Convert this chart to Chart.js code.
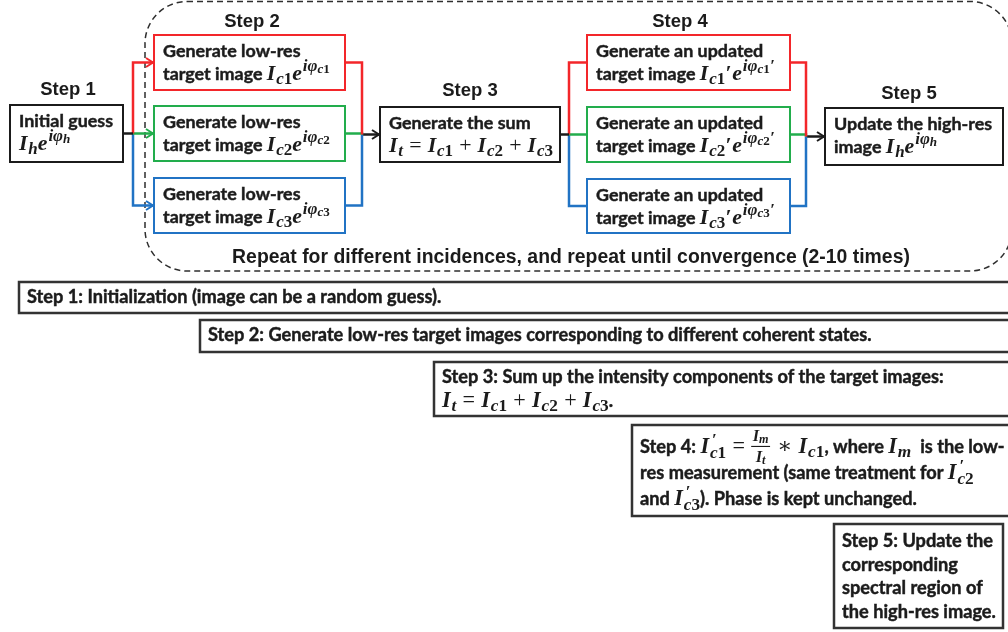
<!DOCTYPE html>
<html lang="en">
<head>
  <meta charset="UTF-8">
  <title>Reconstruction flow</title>
  <script src="https://cdn.jsdelivr.net/npm/chart.js"></script>
  <style>
    html, body { margin: 0; padding: 0; background: #fff; }
    canvas { display: block; }
  </style>
</head>
<body>
  <canvas id="flow" width="1008" height="632"></canvas>

  <script>
    // ---- content ----
    // segment kinds: T text, M math italic, O math operator, D subscript,
    // U superscript, V sub of superscript, Q prime over subscript, F fraction I_a / I_b
    const stepTitles = ['Step 1', 'Step 2', 'Step 3', 'Step 4', 'Step 5'];
    const loopNote = 'Repeat for different incidences, and repeat until convergence (2-10 times)';
    const channels = ['c1', 'c2', 'c3'];

    const initLines = [
      [['T', 'Initial guess']],
      [['M', 'I'], ['D', 'h'], ['M', 'e'], ['U', 'iφ'], ['V', 'h']]
    ];
    const lowResLines = channels.map(c => [
      [['T', 'Generate low-res']],
      [['T', 'target image '], ['M', 'I'], ['D', c], ['M', 'e'], ['U', 'iφ'], ['V', c]]
    ]);
    const sumLines = [
      [['T', 'Generate the sum']],
      [['M', 'I'], ['D', 't'], ['O', '='], ['M', 'I'], ['D', 'c1'], ['O', '+'], ['M', 'I'], ['D', 'c2'], ['O', '+'], ['M', 'I'], ['D', 'c3']]
    ];
    const updLines = channels.map(c => [
      [['T', 'Generate an updated']],
      [['T', 'target image '], ['M', 'I'], ['D', c], ['M', '′'], ['M', 'e'], ['U', 'iφ'], ['V', c], ['U', '′']]
    ]);
    const finalLines = [
      [['T', 'Update the high-res']],
      [['T', 'image '], ['M', 'I'], ['D', 'h'], ['M', 'e'], ['U', 'iφ'], ['V', 'h']]
    ];

    const notes = [
      [[['T', 'Step 1: Initialization (image can be a random guess).']]],
      [[['T', 'Step 2: Generate low-res target images corresponding to different coherent states.']]],
      [
        [['T', 'Step 3: Sum up the intensity components of the target images:']],
        [['M', 'I'], ['D', 't'], ['O', '='], ['M', 'I'], ['D', 'c1'], ['O', '+'], ['M', 'I'], ['D', 'c2'], ['O', '+'], ['M', 'I'], ['D', 'c3'], ['T', '.']]
      ],
      [
        [['T', 'Step 4: '], ['M', 'I'], ['Q', 'c1'], ['O', '='], ['F', 'm', 't'], ['O', '∗'], ['M', 'I'], ['D', 'c1'], ['T', ', where '], ['M', 'I'], ['D', 'm'], ['T', '  is the low-']],
        [['T', 'res measurement (same treatment for '], ['M', 'I'], ['Q', 'c2']],
        [['T', 'and '], ['M', 'I'], ['Q', 'c3'], ['T', '). Phase is kept unchanged.']]
      ],
      [
        [['T', 'Step 5: Update the']],
        [['T', 'corresponding']],
        [['T', 'spectral region of']],
        [['T', 'the high-res image.']]
      ]
    ];

    // ---- layout (diagram units = pixels of the 1008x632 picture) ----
    const W = 1008, H = 632;
    const RED = '#f3262a', GREEN = '#22ad4c', BLUE = '#2173c4', INK = '#1b1b1b';
    const chColors = [RED, GREEN, BLUE];

    const initBox = [10, 105, 123, 162];
    const lowBoxes = [[154, 35, 345, 90], [154, 106, 345, 161], [154, 178, 345, 233]];
    const sumBox = [380, 107, 560, 162];
    const updBoxes = [[587, 35, 790, 90], [587, 107, 790, 162], [587, 179, 790, 233]];
    const finalBox = [825, 108, 1003, 165];
    const titlePos = [[68, 95], [252, 27], [470, 96], [680, 27], [909, 99]];
    const junctions = [133, 362, 569, 806];

    const noteBoxes = [[19, 282, 1014, 313], [200, 320, 1014, 352], [434, 362, 1014, 416], [632, 425, 1014, 516], [834, 524, 1003, 628]];
    const noteLineSpec = [[21, 0], [21, 0], [21, 23.5], [28, 26], [23, 23.7]];

    const BOX_FS = 17.9, NOTE_FS = 18.2, TITLE_FS = 18.5, LOOP_FS = 19.4;
    const SANS = 'Lato, "Open Sans", sans-serif';
    const MATH = '"Liberation Serif", "DejaVu Serif", serif';

    const midY = b => (b[1] + b[3]) / 2;

    // connector paths built from the boxes
    const paths = [];
    function split(src, targets, jx, arrow) {
      const y0 = midY(src);
      paths.push({ pts: [[src[2], y0], [jx, y0]], color: INK, arrow: false });
      targets.forEach((t, i) => {
        const yt = midY(t);
        paths.push({ pts: [[jx, y0], [jx, yt], [t[0] - (arrow ? 1 : 0), yt]], color: chColors[i], arrow });
      });
    }
    function merge(sources, dst, jx) {
      const y0 = midY(dst);
      sources.forEach((s, i) => {
        const ys = midY(s);
        paths.push({ pts: [[s[2], ys], [jx, ys], [jx, y0]], color: chColors[i], arrow: false });
      });
      paths.push({ pts: [[jx, y0], [dst[0] - 1, y0]], color: INK, arrow: true });
    }
    split(initBox, lowBoxes, junctions[0], true);
    merge(lowBoxes, sumBox, junctions[1]);
    split(sumBox, updBoxes, junctions[2], false);
    merge(updBoxes, finalBox, junctions[3]);

    // ---- rich text drawing ----
    function drawRich(ctx, segs, x, y, fs) {
      const m = fs * 1.22;
      const put = (txt, font, dx, dy) => { ctx.font = font; ctx.fillText(txt, x + dx, y + dy); return ctx.measureText(txt).width; };
      // letters italic, digits upright (as in the math font)
      const mathStr = (txt, size, dx, dy) => {
        let w = 0;
        for (const ch of txt) {
          const f = /[0-9]/.test(ch) ? `bold ${size}px ${MATH}` : `bold italic ${size}px ${MATH}`;
          w += put(ch, f, dx + w, dy);
        }
        return w;
      };
      segs.forEach(([k, a, b]) => {
        if (k === 'T') {
          ctx.font = `bold ${fs}px ${SANS}`;
          ctx.strokeText(a, x, y);   // a little heavier, closer to the original bold face
          x += put(a, ctx.font, 0, 0);
        }
        else if (k === 'M') x += put(a, `bold italic ${m}px ${MATH}`, 0, 0) + m * 0.04;
        else if (k === 'O') { const g = m * 0.28; x += put(a, `${m}px ${MATH}`, g, 0) + 2 * g; }
        else if (k === 'D') x += mathStr(a, m * 0.78, 0, m * 0.2);
        else if (k === 'U') x += mathStr(a, m * 0.78, 0, -m * 0.42);
        else if (k === 'V') x += mathStr(a, m * 0.6, 0, -m * 0.3);
        else if (k === 'Q') {
          const w1 = put('′', `bold italic ${m * 0.78}px ${MATH}`, m * 0.08, -m * 0.38);
          const w2 = mathStr(a, m * 0.78, 0, m * 0.24);
          x += Math.max(w1, w2);
        } else if (k === 'F') {
          const s = m * 0.74, ss = m * 0.55;
          ctx.font = `bold italic ${s}px ${MATH}`;
          const wI = ctx.measureText('I').width;
          ctx.font = `bold italic ${ss}px ${MATH}`;
          const wn = wI + ctx.measureText(a).width, wd = wI + ctx.measureText(b).width;
          const w = Math.max(wn, wd) + 3;
          const fx = x;
          x = fx + (w - wn) / 2;
          put('I', `bold italic ${s}px ${MATH}`, 0, -m * 0.52);
          x += wI; put(a, `bold italic ${ss}px ${MATH}`, 0, -m * 0.46);
          x = fx + (w - wd) / 2;
          put('I', `bold italic ${s}px ${MATH}`, 0, m * 0.4);
          x += wI; put(b, `bold italic ${ss}px ${MATH}`, 0, m * 0.48);
          ctx.fillRect(fx, y - m * 0.32, w, Math.max(1, m * 0.05));
          x = fx + w + 1;
        }
      });
      return x;
    }

    function arrowHead(ctx, x, y, color) {
      ctx.save();
      ctx.strokeStyle = color;
      ctx.lineWidth = 2;
      ctx.beginPath();
      ctx.moveTo(x - 7, y - 4.5);
      ctx.lineTo(x, y);
      ctx.lineTo(x - 7, y + 4.5);
      ctx.stroke();
      ctx.restore();
    }

    const diagram = {
      id: 'diagram',
      beforeDatasetsDraw(chart) {
        const { ctx, scales: { x, y } } = chart;
        const X = v => x.getPixelForValue(v), Y = v => y.getPixelForValue(v);
        const rect = (b, color, lw) => {
          ctx.save();
          ctx.fillStyle = '#fff';
          ctx.strokeStyle = color;
          ctx.lineWidth = lw;
          ctx.fillRect(X(b[0]), Y(b[1]), X(b[2]) - X(b[0]), Y(b[3]) - Y(b[1]));
          ctx.strokeRect(X(b[0]), Y(b[1]), X(b[2]) - X(b[0]), Y(b[3]) - Y(b[1]));
          ctx.restore();
        };

        // dashed loop region
        ctx.save();
        ctx.setLineDash([6, 4]);
        ctx.lineWidth = 1.5;
        ctx.strokeStyle = '#2e2e2e';
        ctx.beginPath();
        ctx.roundRect(X(145), Y(1.5), X(1012) - X(145), Y(271) - Y(1.5), 42);
        ctx.stroke();
        ctx.restore();

        rect(initBox, INK, 2);
        lowBoxes.forEach((b, i) => rect(b, chColors[i], 2));
        rect(sumBox, INK, 2);
        updBoxes.forEach((b, i) => rect(b, chColors[i], 2));
        rect(finalBox, INK, 2);
        noteBoxes.forEach(b => rect(b, '#333', 2.5));
      },
      afterDatasetsDraw(chart) {
        const { ctx, scales: { x, y } } = chart;
        const X = v => x.getPixelForValue(v), Y = v => y.getPixelForValue(v);
        ctx.save();
        ctx.fillStyle = INK;
        ctx.strokeStyle = INK;
        ctx.lineWidth = 0.45;
        ctx.textBaseline = 'alphabetic';

        paths.filter(p => p.arrow).forEach(p => {
          const e = p.pts[p.pts.length - 1];
          arrowHead(ctx, X(e[0]), Y(e[1]), p.color);
        });

        ctx.textAlign = 'center';
        ctx.font = `bold ${TITLE_FS}px "Liberation Sans", Arial, sans-serif`;
        stepTitles.forEach((t, i) => ctx.fillText(t, X(titlePos[i][0]), Y(titlePos[i][1])));
        ctx.font = `bold ${LOOP_FS}px "Liberation Sans", Arial, sans-serif`;
        ctx.fillText(loopNote, X(571), Y(263));
        ctx.textAlign = 'left';

        const boxText = (b, lines) => lines.forEach((ln, i) => drawRich(ctx, ln, X(b[0] + 9), Y(b[1] + 22 + i * 23), BOX_FS));
        boxText(initBox, initLines);
        lowBoxes.forEach((b, i) => boxText(b, lowResLines[i]));
        boxText(sumBox, sumLines);
        updBoxes.forEach((b, i) => boxText(b, updLines[i]));
        boxText(finalBox, finalLines);

        notes.forEach((lines, n) => {
          const b = noteBoxes[n], [first, gap] = noteLineSpec[n];
          lines.forEach((ln, i) => drawRich(ctx, ln, X(b[0] + 8), Y(b[1] + first + i * gap), NOTE_FS));
        });
        ctx.restore();
      }
    };

    new Chart(document.getElementById('flow'), {
      type: 'scatter',
      data: {
        datasets: paths.map(p => ({
          data: p.pts.map(([px, py]) => ({ x: px, y: py })),
          showLine: true,
          borderColor: p.color,
          borderWidth: 2.5,
          pointRadius: 0,
          tension: 0,
          fill: false
        }))
      },
      options: {
        responsive: false,
        animation: false,
        layout: { padding: 0 },
        events: [],
        scales: {
          x: { type: 'linear', min: 0, max: W, display: false },
          y: { type: 'linear', min: 0, max: H, reverse: true, display: false }
        },
        plugins: { legend: { display: false }, tooltip: { enabled: false } }
      },
      plugins: [diagram]
    });
  </script>
</body>
</html>
